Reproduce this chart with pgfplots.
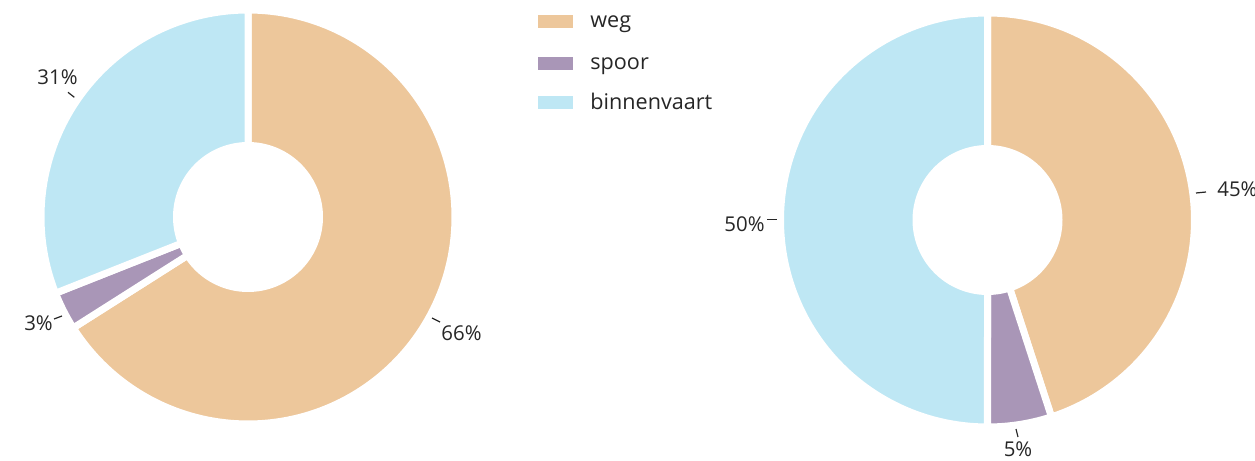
\documentclass[border=0pt]{standalone}
\usepackage{pgfplots}
\pgfplotsset{compat=1.18}
\usepackage{pgfplotstable}
\usepackage{fontspec}
\setmainfont{Open Sans}
\definecolor{weg}{RGB}{237,199,155}
\definecolor{spoor}{RGB}{169,150,183}
\definecolor{binnen}{RGB}{190,231,244}
\definecolor{txt}{RGB}{38,38,38}

\pgfplotstableread{
cat pct
weg 66
spoor 3
binnenvaart 31
}\links
\pgfplotstableread{
cat pct
weg 45
spoor 5
binnenvaart 50
}\rechts

% slice: colour, cx, cy, start angle (high), end angle (low)
\newcommand\slice[5]{%
  \addplot[fill=#1, draw=white, line width=3.5pt, domain=#5:#4, samples=150]
    ({#2+207*cos(x)},{#3+207*sin(x)}) -- (axis cs:#2,#3) -- cycle;}
\newcommand\hole[2]{%
  \addplot[fill=white, draw=none, domain=0:360, samples=150]
    ({#1+75*cos(x)},{#2+75*sin(x)}) -- cycle;}

\begin{document}
\begin{tikzpicture}
\pgfplotstablegetelem{0}{pct}\of\links \let\LA\pgfplotsretval
\pgfplotstablegetelem{1}{pct}\of\links \let\LB\pgfplotsretval
\pgfplotstablegetelem{2}{pct}\of\links \let\LC\pgfplotsretval
\pgfplotstablegetelem{0}{pct}\of\rechts \let\RA\pgfplotsretval
\pgfplotstablegetelem{1}{pct}\of\rechts \let\RB\pgfplotsretval
\pgfplotstablegetelem{2}{pct}\of\rechts \let\RC\pgfplotsretval
\pgfmathsetmacro\La{90}
\pgfmathsetmacro\Lb{\La-3.6*\LA}
\pgfmathsetmacro\Lc{\Lb-3.6*\LB}
\pgfmathsetmacro\Ld{\Lc-3.6*\LC}
\pgfmathsetmacro\Ra{90}
\pgfmathsetmacro\Rb{\Ra-3.6*\RA}
\pgfmathsetmacro\Rc{\Rb-3.6*\RB}
\pgfmathsetmacro\Rd{\Rc-3.6*\RC}
\begin{axis}[
  scale only axis, width=627.5pt, height=230.5pt,
  xmin=0, xmax=1255, ymin=0, ymax=461,
  hide axis, clip=false,
]
% left donut
\slice{weg}{248}{244}{\La}{\Lb}
\slice{spoor}{248}{244}{\Lb}{\Lc}
\slice{binnen}{248}{244}{\Lc}{\Ld}
\hole{248}{244}
% right donut
\slice{weg}{987.5}{241}{\Ra}{\Rb}
\slice{spoor}{987.5}{241}{\Rb}{\Rc}
\slice{binnen}{987.5}{241}{\Rc}{\Rd}
\hole{987.5}{241}
% leader lines
\addplot[txt, line width=0.6pt] coordinates {(68,368.7) (74.3,363.7)};
\addplot[txt, line width=0.6pt] coordinates {(54,142) (62,145)};
\addplot[txt, line width=0.6pt] coordinates {(432,143) (440,139)};
\addplot[txt, line width=0.6pt] coordinates {(767,241.7) (777,241.7)};
\addplot[txt, line width=0.6pt] coordinates {(1196,268) (1206,269)};
\addplot[txt, line width=0.6pt] coordinates {(1016,32) (1018,24)};
% labels
\begin{scope}[every node/.style={text=txt, inner sep=0pt, font=\fontsize{10.2}{12}\selectfont}]
\node[anchor=base] at (axis cs:57.5,376) {31\%};
\node[anchor=base] at (axis cs:38.5,130) {3\%};
\node[anchor=base] at (axis cs:461.5,120) {66\%};
\node[anchor=base] at (axis cs:744.5,229) {50\%};
\node[anchor=base west] at (axis cs:1217,264) {45\%};
\node[anchor=base] at (axis cs:1018,4) {5\%};
\end{scope}
% legend
\fill[weg] (axis cs:538,446) rectangle (axis cs:573,433);
\fill[spoor] (axis cs:538,404) rectangle (axis cs:573,391);
\fill[binnen] (axis cs:538,365) rectangle (axis cs:573,352);
\begin{scope}[every node/.style={text=txt, inner sep=0pt, anchor=base west, font=\fontsize{10.8}{13}\selectfont}]
\node at (axis cs:590,433) {weg};
\node at (axis cs:590,391) {spoor};
\node at (axis cs:590,351) {binnenvaart};
\end{scope}
\end{axis}
\pgfresetboundingbox
\path[use as bounding box] (0,0) rectangle (627.5pt,230.5pt);
\end{tikzpicture}
\end{document}
